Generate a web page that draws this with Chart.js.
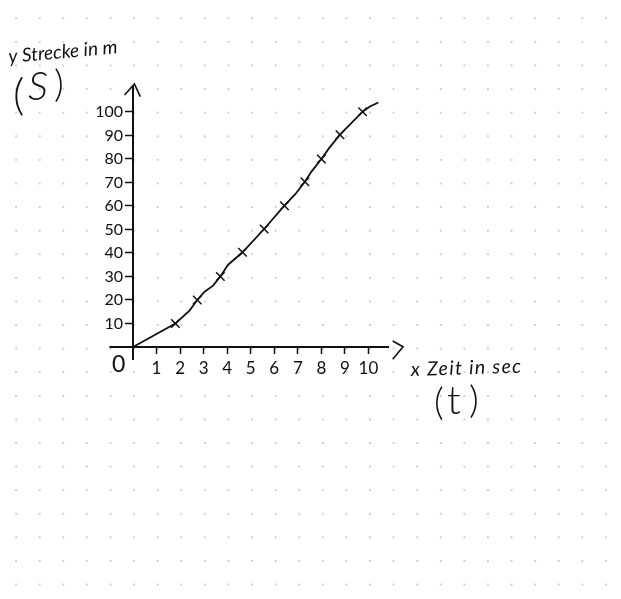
<!DOCTYPE html>
<html>
<head>
<meta charset="utf-8">
<script src="https://cdn.jsdelivr.net/npm/chart.js@4"></script>
<style>
    html, body { margin: 0; padding: 0; width: 621px; height: 599px; overflow: hidden; background-color: #fff; }
    /* dotted notebook paper */
    body {
        background-image: radial-gradient(circle at center, #cfcfcf 0, #cfcfcf 1px, rgba(255,255,255,0) 1.4px);
        background-size: 23.6px 23.6px;
        background-position: 4.3px 6.5px;
    }
    canvas { display: block; }
</style>
</head>
<body>
<canvas id="chart" width="621" height="599"></canvas>
<script>
// Tick labels
const xTicks = [1, 2, 3, 4, 5, 6, 7, 8, 9, 10];
const yTicks = [10, 20, 30, 40, 50, 60, 70, 80, 90, 100];

// Marked measurements (crosses)
const timeValues = [1.8, 2.73, 3.71, 4.65, 5.57, 6.43, 7.3, 8.0, 8.79, 9.75];
const distanceValues = [10, 20, 30, 40.3, 50.2, 60.1, 70.3, 80, 90.3, 100.1];

// Hand drawn curve through them
const curveTime = [0, 1.8, 2.4, 2.73, 3.04, 3.4, 3.71, 4.03, 4.65, 5.57, 6.43, 6.9, 7.3, 7.58, 8.0, 8.32, 8.79, 9.75, 10.06, 10.42];
const curveDistance = [0, 10, 15.5, 20, 23.5, 26.1, 30, 34.9, 40.3, 50.2, 60.1, 65.1, 70.3, 74.6, 80, 84.5, 90.3, 100.1, 102.3, 104];

// Axis stubs past the origin and the arrow heads
const xStub = [{x: -1, y: 0}, {x: 0, y: 0}];
const yStub = [{x: 0, y: 0}, {x: 0, y: -5.5}];
const yArrow = [{x: -0.36, y: 107.2}, {x: 0.06, y: 111.9}, {x: 0.31, y: 106.5}];
const xArrow = [{x: 11.03, y: 2.55}, {x: 11.47, y: 0.13}, {x: 11.03, y: -5.2}];

const ink = '#111111';

function toPoints(xs, ys) {
    return xs.map(function(x, i) { return {x: x, y: ys[i]}; });
}

function inkLine(data, width) {
    return {
        data: data,
        borderColor: ink,
        borderWidth: width,
        pointRadius: 0,
        tension: 0,
        clip: false
    };
}

// Handwritten notes around the axes
const notes = {
    id: 'notes',
    afterDraw: function(chart) {
        const ctx = chart.ctx;
        ctx.save();
        ctx.fillStyle = ink;
        ctx.textBaseline = 'alphabetic';

        function write(text, x, y, font, angle) {
            ctx.save();
            ctx.translate(x, y);
            ctx.rotate(angle || 0);
            ctx.font = font;
            ctx.fillText(text, 0, 0);
            ctx.restore();
        }

        write('y Strecke in m', 9, 63, 'italic 400 19px Lato, sans-serif', -0.09);
        write('(', 13, 110, '300 44px Lato, sans-serif');
        write('S', 28, 100, 'italic 300 40px Lato, sans-serif');
        write(')', 54, 97, '300 38px Lato, sans-serif');
        write('0', 112, 372, '400 23px Lato, sans-serif');
        ctx.letterSpacing = '1.3px';
        write('x Zeit in sec', 411, 376, 'italic 400 19.5px Lato, sans-serif', -0.03);
        ctx.letterSpacing = '0px';
        write('(', 434, 415, '300 38px Lato, sans-serif');
        write('t', 447, 414, '300 40px Lato, sans-serif');
        write(')', 469, 413, '300 38px Lato, sans-serif');
        ctx.restore();
    }
};

document.addEventListener('DOMContentLoaded', function() {
    const ctx = document.getElementById('chart').getContext('2d');
    new Chart(ctx, {
        type: 'line',
        data: {
            datasets: [
                inkLine(toPoints(curveTime, curveDistance), 1.8),
                {
                    data: toPoints(timeValues, distanceValues),
                    showLine: false,
                    pointStyle: 'crossRot',
                    pointRadius: 6,
                    pointBorderColor: ink,
                    pointBorderWidth: 1.5
                },
                inkLine(xStub, 2),
                inkLine(yStub, 2),
                inkLine(yArrow, 1.6),
                inkLine(xArrow, 1.6)
            ]
        },
        options: {
            responsive: false,
            animation: false,
            layout: {
                padding: {left: 0, right: 233, top: 87, bottom: 0}
            },
            plugins: {
                legend: {display: false},
                tooltip: {enabled: false},
                title: {display: false}
            },
            scales: {
                x: {
                    type: 'linear',
                    position: 'bottom',
                    min: 0,
                    max: 10.83,
                    afterFit: function(scale) { scale.height = 252; },
                    afterBuildTicks: function(scale) {
                        scale.ticks = xTicks.map(function(v) { return {value: v}; });
                    },
                    border: {color: ink, width: 2},
                    grid: {drawOnChartArea: false, color: ink, tickLength: 7, tickWidth: 1.5},
                    ticks: {
                        color: ink,
                        padding: 4,
                        maxRotation: 0,
                        autoSkip: false,
                        font: {family: 'Lato', size: 17}
                    }
                },
                y: {
                    type: 'linear',
                    position: 'left',
                    min: 0,
                    max: 110.6,
                    afterFit: function(scale) { scale.width = 133; },
                    afterBuildTicks: function(scale) {
                        scale.ticks = yTicks.map(function(v) { return {value: v}; });
                    },
                    border: {color: ink, width: 2},
                    grid: {drawOnChartArea: false, color: ink, tickLength: 8, tickWidth: 1.5},
                    ticks: {
                        color: ink,
                        padding: 2,
                        autoSkip: false,
                        font: {family: 'Lato', size: 16}
                    }
                }
            }
        },
        plugins: [notes]
    });
});
</script>
</body>
</html>
